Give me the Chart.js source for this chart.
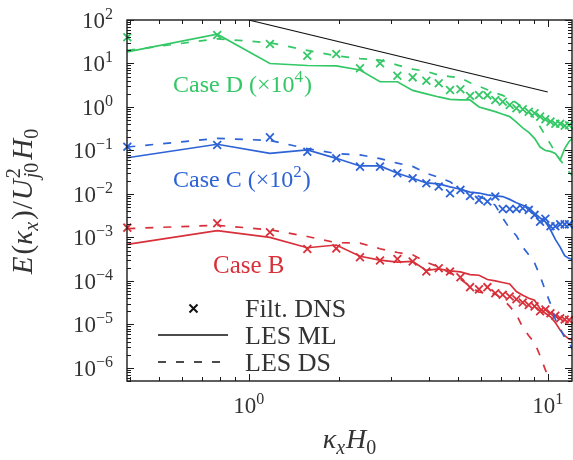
<!DOCTYPE html>
<html>
<head>
<meta charset="utf-8">
<script src="https://cdn.jsdelivr.net/npm/chart.js@4.4.1/dist/chart.umd.min.js"></script>
<style>
html, body { margin: 0; padding: 0; background: #fff; }
#wrap { width: 573px; height: 460px; }
</style>
</head>
<body>
<div id="wrap"><canvas id="spectra" width="573" height="460"></canvas></div>
<script>
// streamwise wavenumber kx*H0
var kx = [0.393, 0.785, 1.178, 1.571, 1.963, 2.356, 2.749, 3.142, 3.534, 3.927,
          4.320, 4.712, 5.105, 5.498, 5.890, 6.283, 6.676, 7.069, 7.461, 7.854,
          8.247, 8.639, 9.032, 9.425, 9.817, 10.21, 10.60, 11.00, 11.39, 11.78, 12.17];

// Case D (x1e4)
var dnsD = [40, 45, 28, 15, 16.5, 7.8, 10.1, 5.2, 4.8, 4.0, 3.5, 2.46, 2.55, 1.79, 1.89,
            1.85, 1.45, 1.32, 1.11, 0.93, 0.885, 0.78, 0.72, 0.60, 0.52, 0.46, 0.41, 0.41, 0.37, 0.38];
var mlD = [18.5, 47, 10, 9, 8.8, 7.1, 3.8, 3.8, 2.4, 2.0, 1.7, 1.5, 1.45, 1.45, 1.0,
           0.88, 0.78, 0.68, 0.6, 0.45, 0.33, 0.26, 0.19, 0.12, 0.1, 0.095, 0.085, 0.06, 0.11, 0.16, 0.2];
var dsD = [20, 37, 30, 20, 15, 13, 12, 9.2, 7.4, 6.6, 5.4, 5.0, 4.7, 3.6, 3.0,
           2.5, 2.1, 1.85, 1.55, 1.25, 0.95, 0.75, 0.55, 0.35, 0.22, 0.14, 0.09, 0.06, 0.045, 0.032, 0.025];

// Case C (x1e2)
var dnsC = [0.122, 0.134, 0.20, 0.093, 0.066, 0.0425, 0.0425, 0.030, 0.023, 0.0176, 0.0148, 0.0104, 0.0124, 0.009, 0.0073,
            0.0067, 0.0087, 0.0045, 0.0045, 0.0045, 0.0047, 0.0043, 0.0033, 0.0023, 0.0027, 0.0018, 0.0018, 0.0020, 0.0020, 0.0020];
var mlC = [0.068, 0.139, 0.086, 0.103, 0.066, 0.044, 0.044, 0.030, 0.023, 0.018, 0.017, 0.0145, 0.0128, 0.011, 0.0105,
           0.0095, 0.009, 0.0087, 0.0075, 0.0063, 0.0055, 0.0048, 0.0036, 0.0028, 0.0023, 0.0015, 0.0009, 0.0006, 0.00038, 0.00033, 0.00031];
var dsC = [0.12, 0.19, 0.17, 0.11, 0.085, 0.079, 0.065, 0.051, 0.043, 0.03, 0.024, 0.019, 0.013, 0.0105, 0.0088,
           0.0072, 0.0055, 0.0028, 0.0016, 0.0011, 0.0006, 0.0004, 0.00026, 0.00013, 6e-5, 3e-5, 1.3e-5, 8e-6, 5e-6, 3.7e-6, 2.5e-6];

// Case B
var dnsB = [0.00168, 0.00212, 0.00132, 0.00054, 0.00056, 0.00035, 0.000294, 0.00032, 0.00028, 0.000164, 0.000195, 0.000164, 0.000122, 7.2e-5, 6.4e-5,
            7.2e-5, 5.2e-5, 4.8e-5, 4.4e-5, 3.8e-5, 3.2e-5, 2.8e-5, 2.6e-5, 2e-5, 2.2e-5, 1.8e-5, 1.58e-5, 1.38e-5, 1.3e-5, 1.26e-5];
var mlB = [0.00069, 0.00144, 0.001, 0.00058, 0.00067, 0.00037, 0.0003, 0.00027, 0.00028, 0.000175, 0.00019, 0.00017, 0.000162, 0.00014, 0.000135,
           0.000108, 0.0001, 9.2e-5, 8.5e-5, 5.7e-5, 4.7e-5, 4e-5, 3.6e-5, 2.3e-5, 1.8e-5, 1.5e-5, 1.1e-5, 7.4e-6, 5.5e-6, 4.6e-6, 4.3e-6];
var dsB = [0.0016, 0.0019, 0.0015, 0.00105, 0.00076, 0.00074, 0.00055, 0.00045, 0.0004, 0.00027, 0.00021, 0.00015, 0.00011, 7.5e-5, 5.5e-5,
           5.3e-5, 5e-5, 3.8e-5, 2.6e-5, 1.7e-5, 8.5e-6, 5.5e-6, 3.8e-6, 1.9e-6, 9e-7, 5e-7, 2.5e-7, 1.2e-7, 6e-8, 3e-8, 1.5e-8];

// -5/3 reference slope
var refK = [1, 10];
var refE = [100, 2.2];

// decade tick labels (exponents)
var xExp = [0, 1];
var yExp = [2, 1, 0, -1, -2, -3, -4, -5, -6];

var GREEN = '#33c865', BLUE = '#2d63d6', RED = '#d8303a';
var SERIF = '"Liberation Serif", "Times New Roman", serif';
var DASH = [8, 10];

function pts(xs, ys) {
    var out = [];
    for (var i = 0; i < ys.length; i++) out.push({ x: xs[i], y: ys[i] });
    return out;
}

function crosses(vals, color) {
    return { data: pts(kx, vals), showLine: false, pointStyle: 'crossRot', pointRadius: 5.5,
             pointBorderWidth: 1.8, borderColor: color, pointBorderColor: color, clip: false };
}
function solid(vals, color) {
    return { data: pts(kx, vals), borderColor: color, borderWidth: 1.7, pointRadius: 0, tension: 0 };
}
function dashed(vals, color) {
    return { data: pts(kx, vals), borderColor: color, borderWidth: 1.7, pointRadius: 0, tension: 0, borderDash: DASH };
}

// text runs: {t, i (italic), s ('sup'|'sub'), hold (do not advance)}
function drawMath(ctx, parts, x, y, size, measureOnly) {
    var cx = x;
    parts.forEach(function (p) {
        var fs = p.s ? Math.round(size * 0.7) : size;
        var dy = p.s === 'sup' ? -size * 0.4 : (p.s === 'sub' ? size * 0.22 : 0);
        ctx.font = (p.i ? 'italic ' : '') + fs + 'px ' + SERIF;
        if (!measureOnly) ctx.fillText(p.t, cx, y + dy);
        var w = ctx.measureText(p.t).width;
        if (!p.hold) cx += w + (p.gap || 0);
    });
    return cx - x;
}

function powLabel(e) {
    return [{ t: '10' }, { t: (e < 0 ? '\u2212' + (-e) : String(e)), s: 'sup' }];
}

var decorPlugin = {
    id: 'decor',
    afterDraw: function (chart) {
        var ctx = chart.ctx, a = chart.chartArea;
        var xs = chart.scales.x, ys = chart.scales.y;
        ctx.save();
        ctx.strokeStyle = '#1a1a1a';
        ctx.fillStyle = '#1a1a1a';
        ctx.lineWidth = 1.4;
        ctx.strokeRect(a.left, a.top, a.right - a.left, a.bottom - a.top);

        // inward ticks on all four sides
        ctx.lineWidth = 1;
        ctx.beginPath();
        for (var e = -1; e <= 1; e++) {
            for (var m = 1; m <= 9; m++) {
                var v = m * Math.pow(10, e);
                if (v < xs.min || v > xs.max) continue;
                var px = Math.round(xs.getPixelForValue(v)) + 0.5;
                var len = m === 1 ? 7 : 4;
                ctx.moveTo(px, a.bottom); ctx.lineTo(px, a.bottom - len);
                ctx.moveTo(px, a.top); ctx.lineTo(px, a.top + len);
            }
        }
        for (e = -7; e <= 2; e++) {
            for (m = 1; m <= 9; m++) {
                v = m * Math.pow(10, e);
                if (v < ys.min || v > ys.max) continue;
                var py = Math.round(ys.getPixelForValue(v)) + 0.5;
                len = m === 1 ? 7 : 4;
                ctx.moveTo(a.left, py); ctx.lineTo(a.left + len, py);
                ctx.moveTo(a.right, py); ctx.lineTo(a.right - len, py);
            }
        }
        ctx.stroke();

        // tick labels
        ctx.fillStyle = '#333';
        ctx.textBaseline = 'alphabetic';
        ctx.textAlign = 'left';
        var fs = 23;
        yExp.forEach(function (e) {
            var py = ys.getPixelForValue(Math.pow(10, e));
            var w = drawMath(ctx, powLabel(e), 0, 0, fs, true);
            drawMath(ctx, powLabel(e), 113 - w, py + 8, fs);
        });
        xExp.forEach(function (e) {
            var px = xs.getPixelForValue(Math.pow(10, e));
            var w = drawMath(ctx, powLabel(e), 0, 0, fs, true);
            drawMath(ctx, powLabel(e), px - w / 2, a.bottom + 32, fs);
        });

        // axis titles
        var xt = [{ t: '\u03ba', i: true }, { t: 'x', i: true, s: 'sub', gap: 1 }, { t: 'H', i: true }, { t: '0', s: 'sub' }];
        var wx = drawMath(ctx, xt, 0, 0, 28, true);
        drawMath(ctx, xt, (a.left + a.right) / 2 - wx / 2, 448, 28);

        var yt = [{ t: 'E', i: true, gap: 2 }, { t: '(' }, { t: '\u03ba', i: true }, { t: 'x', i: true, s: 'sub', gap: 2 },
                  { t: ')', gap: 1 }, { t: '/', gap: 1 }, { t: 'U', i: true, gap: 1 }, { t: '2', s: 'sup', hold: true },
                  { t: 'j', i: true, s: 'sub' }, { t: '0', s: 'sub', gap: 3 }, { t: 'H', i: true }, { t: '0', s: 'sub' }];
        var wy = drawMath(ctx, yt, 0, 0, 29, true);
        ctx.save();
        ctx.translate(32, (a.top + a.bottom) / 2 + 1);
        ctx.rotate(-Math.PI / 2);
        drawMath(ctx, yt, -wy / 2, 0, 29);
        ctx.restore();

        // case labels
        ctx.fillStyle = GREEN;
        drawMath(ctx, [{ t: 'Case D (\u00d710' }, { t: '4', s: 'sup', gap: 1 }, { t: ')' }], 173, 92, 24);
        ctx.fillStyle = BLUE;
        drawMath(ctx, [{ t: 'Case C (\u00d710' }, { t: '2', s: 'sup', gap: 1 }, { t: ')' }], 173, 187, 24);
        ctx.fillStyle = RED;
        drawMath(ctx, [{ t: 'Case B' }], 213, 273, 25);

        // legend
        ctx.strokeStyle = '#111';
        ctx.lineWidth = 2;
        ctx.beginPath();
        ctx.moveTo(189.5, 304.5); ctx.lineTo(197.5, 312.5);
        ctx.moveTo(197.5, 304.5); ctx.lineTo(189.5, 312.5);
        ctx.stroke();
        ctx.lineWidth = 1.7;
        ctx.beginPath(); ctx.moveTo(158, 335); ctx.lineTo(228, 335); ctx.stroke();
        ctx.setLineDash(DASH);
        ctx.beginPath(); ctx.moveTo(158, 362); ctx.lineTo(228, 362); ctx.stroke();
        ctx.setLineDash([]);
        ctx.fillStyle = '#333';
        ctx.font = '26px ' + SERIF;
        ctx.fillText('Filt. DNS', 245, 317);
        ctx.fillText('LES ML', 245, 344);
        ctx.fillText('LES DS', 245, 371);
        ctx.restore();
    }
};

new Chart(document.getElementById('spectra'), {
    type: 'line',
    data: {
        datasets: [
            { data: pts(refK, refE), borderColor: '#111', borderWidth: 1.1, pointRadius: 0 },
            solid(mlD, GREEN), dashed(dsD, GREEN), crosses(dnsD, GREEN),
            solid(mlC, BLUE), dashed(dsC, BLUE), crosses(dnsC, BLUE),
            solid(mlB, RED), dashed(dsB, RED), crosses(dnsB, RED)
        ]
    },
    options: {
        responsive: false,
        animation: false,
        devicePixelRatio: 1,
        layout: { autoPadding: false, padding: { left: 127, top: 20, right: 1, bottom: 79 } },
        plugins: { legend: { display: false }, tooltip: { enabled: false } },
        scales: {
            x: {
                type: 'logarithmic', min: 0.392, max: 12.05,
                grid: { display: false, drawTicks: false }, border: { display: false }, ticks: { display: false }
            },
            y: {
                type: 'logarithmic', min: 5.0e-7, max: 100,
                grid: { display: false, drawTicks: false }, border: { display: false }, ticks: { display: false }
            }
        }
    },
    plugins: [decorPlugin]
});
</script>
</body>
</html>
